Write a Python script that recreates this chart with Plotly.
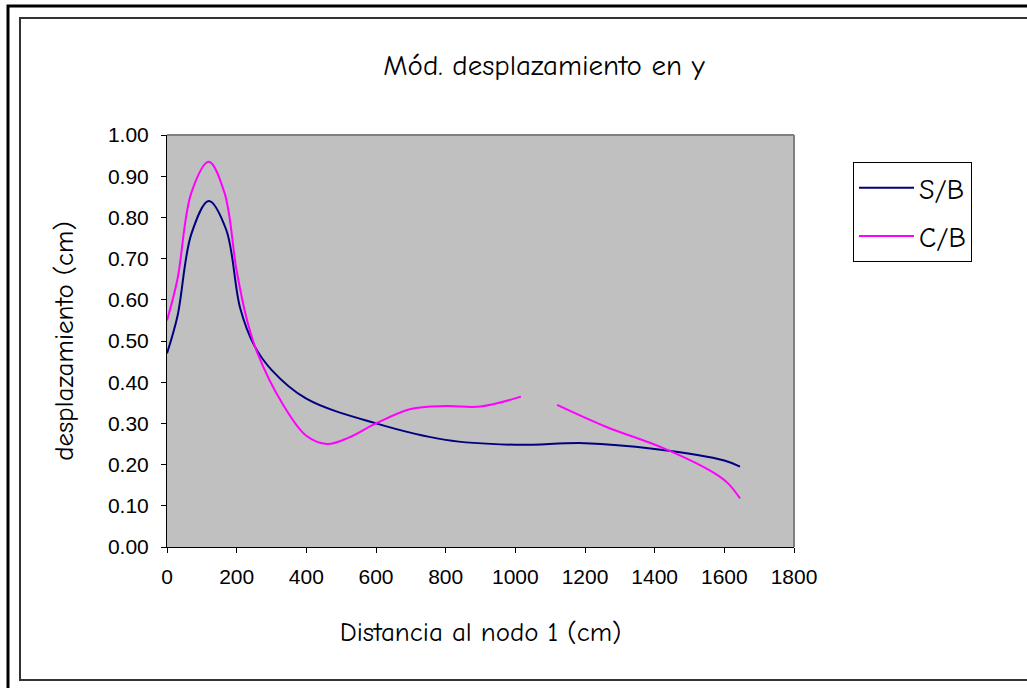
import plotly.graph_objects as go

# ---- data ----
sb_x = [0, 30, 70, 120, 170, 210, 250, 300, 400, 600, 800, 1000, 1200, 1400, 1600, 1645]
sb_y = [0.47, 0.56, 0.76, 0.84, 0.77, 0.58, 0.49, 0.43, 0.36, 0.30, 0.26, 0.248, 0.252, 0.238, 0.21, 0.195]

cb_x = [0, 30, 70, 120, 165, 200, 230, 260, 330, 400, 460, 520, 600, 700, 800, 900, 1016, 1070,
        1120, 1260, 1425, 1570, 1610, 1645]
cb_y = [0.55, 0.65, 0.86, 0.935, 0.86, 0.67, 0.55, 0.47, 0.35, 0.27, 0.25, 0.265, 0.30, 0.335, 0.342,
        0.341, 0.365, None, 0.345, 0.292, 0.24, 0.18, 0.155, 0.118]

x_ticks = [0, 200, 400, 600, 800, 1000, 1200, 1400, 1600, 1800]
y_ticks = [0.0, 0.1, 0.2, 0.3, 0.4, 0.5, 0.6, 0.7, 0.8, 0.9, 1.0]

# ---- layout geometry (pixels) ----
W, H = 1027, 688
L, R, T, B = 167, 794, 135, 547


def px(xp):
    return (xp - L) / (R - L)


def py(yp):
    return (B - yp) / (B - T)


comic = "Comic Sans MS, Comic Neue, DejaVu Sans, sans-serif"
arial = "Arial, Liberation Sans, sans-serif"

fig = go.Figure()
fig.add_trace(go.Scatter(x=sb_x, y=sb_y, mode="lines", name="S/B", legendgroup="a",
                         line=dict(color="#000080", width=2, shape="spline", smoothing=1)))
fig.add_trace(go.Scatter(x=cb_x, y=cb_y, mode="lines", name="C/B", legendgroup="b",
                         connectgaps=False,
                         line=dict(color="#FF00FF", width=2, shape="spline", smoothing=1)))

fig.update_layout(
    width=W, height=H,
    margin=dict(l=L, r=W - R, t=T, b=H - B),
    paper_bgcolor="white",
    plot_bgcolor="#C0C0C0",
    title=dict(text="Mód. desplazamiento en y", x=544 / W, xanchor="center",
               y=1 - 65 / H, yanchor="middle", xref="container", yref="container",
               font=dict(family=comic, size=29, color="black")),
    xaxis=dict(range=[0, 1800], tickvals=x_ticks, ticks="outside", ticklen=5,
               tickcolor="black", showline=True, linecolor="black", linewidth=1,
               showgrid=False, zeroline=False, ticklabelstandoff=6,
               tickfont=dict(family=arial, size=21, color="black"),
               title=dict(text="Distancia al nodo 1 (cm)", standoff=34,
                          font=dict(family=comic, size=27, color="black"))),
    yaxis=dict(range=[0, 1.0], tickvals=y_ticks, tickformat=".2f", ticks="outside",
               ticklen=5, tickcolor="black", showline=True, linecolor="black", linewidth=1,
               showgrid=False, zeroline=False, ticklabelstandoff=8,
               tickfont=dict(family=arial, size=21, color="black"),
               title=dict(text="desplazamiento (cm)", standoff=26,
                          font=dict(family=comic, size=27, color="black"))),
    legend=dict(x=px(853), y=py(162), xanchor="left", yanchor="top",
                bordercolor="black", borderwidth=1, bgcolor="white",
                font=dict(family=comic, size=28, color="black"),
                itemwidth=55,
                tracegroupgap=9, traceorder="grouped"),
    showlegend=True,
)

shapes = [
    # outer frame
    dict(type="rect", xref="paper", yref="paper", x0=px(8), x1=px(1060), y0=py(720), y1=py(6),
         line=dict(color="black", width=3), fillcolor="rgba(0,0,0,0)", layer="below"),
    # inner frame
    dict(type="rect", xref="paper", yref="paper", x0=px(20), x1=px(1050), y0=py(680), y1=py(18),
         line=dict(color="#333333", width=2), fillcolor="rgba(0,0,0,0)", layer="below"),
    # plot area top/right gray border
    dict(type="line", xref="paper", yref="paper", x0=0, x1=1, y0=1, y1=1,
         line=dict(color="#808080", width=2)),
    dict(type="line", xref="paper", yref="paper", x0=1, x1=1, y0=0, y1=1,
         line=dict(color="#808080", width=2)),
]
fig.update_layout(shapes=shapes)

fig.write_html("out.html", config={"displayModeBar": False},
               post_script="document.body.style.margin='0';document.body.style.overflow='hidden';")
